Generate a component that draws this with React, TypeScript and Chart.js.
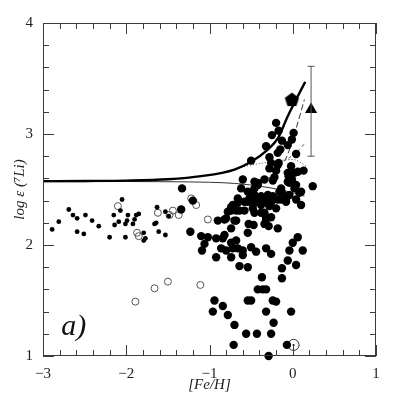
import React, { useEffect, useRef } from "react";
import { Chart, registerables } from "chart.js";

Chart.register(...registerables);

// ---- data ----
// halo-like metal-poor stars (small dots)
const smallDots: [number, number][] = [
  [-2.89, 2.14], [-2.81, 2.21], [-2.69, 2.32], [-2.64, 2.27], [-2.59, 2.24], [-2.59, 2.12],
  [-2.51, 2.10], [-2.49, 2.27], [-2.41, 2.22], [-2.33, 2.17], [-2.20, 2.07], [-2.15, 2.27],
  [-2.14, 2.18], [-2.09, 2.21], [-2.05, 2.41], [-2.07, 2.31], [-2.01, 2.19], [-2.01, 2.07],
  [-1.98, 2.27], [-1.99, 2.22], [-1.92, 2.19], [-1.90, 2.23], [-1.85, 2.28], [-1.79, 2.11],
  [-1.79, 2.04], [-1.77, 2.06], [-1.66, 2.19], [-1.64, 2.20], [-1.63, 2.34], [-1.61, 2.12],
  [-1.53, 2.09], [-1.53, 2.30], [-1.49, 2.26], [-1.88, 2.27],
];

// disk stars (large filled dots)
const bigDots: [number, number][] = [
  [-0.20, 3.10], [-0.17, 3.03], [-0.25, 2.99], [0.01, 3.01], [-0.01, 2.95], [-0.13, 2.94],
  [-0.32, 2.89], [-0.06, 2.90], [-0.15, 2.86], [-0.18, 2.83], [-0.28, 2.79], [0.04, 2.82],
  [-0.50, 2.76], [-0.26, 2.74], [-0.17, 2.74], [-0.28, 2.69], [-0.02, 2.71], [-0.20, 2.67],
  [-0.06, 2.65], [0.06, 2.66], [0.13, 2.67], [-0.18, 2.72], [0.02, 2.65],
  [-0.22, 2.61], [-0.05, 2.62], [-0.34, 2.59], [-0.60, 2.59], [-0.42, 2.56], [-0.46, 2.57],
  [-0.24, 2.58], [-0.06, 2.57], [0.24, 2.53], [-0.62, 2.51], [-0.42, 2.54], [-0.14, 2.51],
  [0.04, 2.54], [-0.01, 2.59], [0.08, 2.47], [0.10, 2.48], [-0.13, 2.47], [-0.04, 2.45],
  [-0.46, 2.45], [-0.38, 2.44], [-0.16, 2.48], [-0.54, 2.48], [-0.46, 2.51], [-0.04, 2.56],
  [0.02, 2.51], [-0.08, 2.43], [-0.30, 2.45],
  [-0.66, 2.42], [-0.54, 2.39], [-0.26, 2.41], [-0.72, 2.36], [-0.66, 2.38], [-0.74, 2.31],
  [-0.64, 2.31], [-0.58, 2.39], [-0.52, 2.42], [-0.46, 2.38], [-0.42, 2.42], [-0.38, 2.36],
  [-0.32, 2.41], [-0.28, 2.35], [-0.46, 2.29], [-0.38, 2.29], [-0.24, 2.44], [-0.14, 2.41],
  [-0.08, 2.42], [0.04, 2.41], [0.10, 2.36], [-0.20, 2.33], [-0.32, 2.25], [-0.18, 2.41],
  [-0.34, 2.39], [-0.50, 2.39], [-0.74, 2.34], [-0.68, 2.31], [-0.78, 2.30], [-0.58, 2.31],
  [-0.48, 2.33], [-0.26, 2.38], [-0.08, 2.39], [-0.34, 2.29], [-0.26, 2.25],
  [-0.90, 2.22], [-0.82, 2.23], [-0.68, 2.22], [-0.74, 2.15], [-0.53, 2.19], [-0.47, 2.18],
  [-0.54, 2.11], [-0.32, 2.23], [-0.29, 2.17], [-0.18, 2.15], [-1.10, 2.08], [-1.02, 2.07],
  [-1.06, 2.01], [-0.92, 2.06], [-0.84, 2.06], [-0.82, 2.09], [-0.74, 2.02], [-0.68, 2.04],
  [0.00, 2.02], [0.06, 2.07], [-0.70, 2.22], [-0.34, 2.19], [-0.80, 2.24],
  [-1.09, 1.95], [-0.86, 1.97], [-0.80, 1.95], [-0.72, 1.97], [-0.66, 1.97], [-0.60, 1.95],
  [-0.50, 1.98], [-0.44, 1.94], [-0.32, 1.97], [-0.26, 1.92], [-0.92, 1.89], [-0.74, 1.89],
  [-0.60, 1.91], [-0.04, 1.95], [0.12, 1.95], [-0.06, 1.86], [0.04, 1.82], [-0.13, 1.79],
  [-0.64, 1.81], [-0.54, 1.80],
  [-0.37, 1.71], [-0.13, 1.70], [-0.42, 1.60], [-0.36, 1.60], [-0.32, 1.60], [-0.94, 1.50],
  [-0.54, 1.50], [-0.50, 1.50], [-0.24, 1.50], [-0.20, 1.49], [-0.96, 1.40], [-0.84, 1.45],
  [-0.78, 1.37], [-0.32, 1.40], [-0.02, 1.40], [-0.23, 1.30], [-0.70, 1.28], [-0.56, 1.20],
  [-0.43, 1.20], [-0.26, 1.20], [-0.71, 1.10], [-0.07, 1.10], [-0.29, 1.00],
  [-1.33, 2.51], [-1.34, 2.32], [-1.23, 2.12], [-1.20, 2.40],
];

// open circles
const openCircles: [number, number][] = [
  [-2.10, 2.35], [-1.87, 2.11], [-1.85, 2.08], [-1.62, 2.29], [-1.48, 2.27], [-1.44, 2.31],
  [-1.37, 2.27], [-1.22, 2.42], [-1.16, 2.36], [-1.89, 1.49], [-1.66, 1.61], [-1.50, 1.67],
  [-1.11, 1.64], [-1.02, 2.23],
];

const sunPoint: [number, number][] = [[0.01, 1.10]];
const meteoritePoint: [number, number][] = [[-0.01, 3.31]];
const triPoint: [number, number][] = [[0.22, 3.22]];
const errorBar: [number, number][] = [[0.22, 2.80], [0.22, 3.61]];

// model curves
const thickCurve: [number, number][] = [
  [-3, 2.575], [-2.5, 2.577], [-2, 2.58], [-1.5, 2.592], [-1.1, 2.62], [-0.7, 2.68],
  [-0.5, 2.75], [-0.3, 2.86], [-0.18, 2.96], [-0.06, 3.16], [0.06, 3.34], [0.15, 3.47],
];
const thinCurve: [number, number][] = [
  [-3, 2.57], [-2, 2.572], [-1.5, 2.57], [-1.0, 2.565], [-0.7, 2.555], [-0.4, 2.53],
  [-0.1, 2.49], [0.14, 2.44],
];
const dottedCurve: [number, number][] = [
  [-0.62, 2.70], [-0.5, 2.72], [-0.3, 2.745], [-0.1, 2.765], [0.0, 2.77], [0.08, 2.75], [0.16, 2.71],
];
const dashedCurve: [number, number][] = [
  [-0.42, 2.54], [-0.2, 2.66], [-0.07, 2.80], [0.04, 3.05], [0.14, 3.31],
];
const shortDashCurve: [number, number][] = [
  [-0.05, 2.78], [0.08, 2.86], [0.16, 2.93],
];

const toXY = (a: [number, number][]) => a.map(([x, y]) => ({ x, y }));

function makePentagon(r: number) {
  const c = document.createElement("canvas");
  const s = Math.ceil(r * 2 + 2);
  c.width = s;
  c.height = s;
  const g = c.getContext("2d")!;
  g.fillStyle = "#000";
  g.beginPath();
  for (let i = 0; i < 5; i++) {
    const a = -Math.PI / 2 + (i * 2 * Math.PI) / 5;
    const px = s / 2 + r * Math.cos(a);
    const py = s / 2 + r * Math.sin(a) + 0.5;
    if (i === 0) g.moveTo(px, py);
    else g.lineTo(px, py);
  }
  g.closePath();
  g.fill();
  return c;
}

const isInt = (v: number) => Math.abs(v - Math.round(v)) < 1e-6;
const fmt = (v: number) => {
  const r = Math.round(v);
  return r < 0 ? "\u2212" + Math.abs(r) : String(r);
};

const framePlugin = {
  id: "frameTicks",
  afterDatasetsDraw(chart: any) {
    const { ctx, chartArea, scales } = chart;
    const { left, right, top, bottom } = chartArea;
    const xs = scales.x;
    const ys = scales.y;
    ctx.save();
    ctx.strokeStyle = "#3c3c3c";
    ctx.lineWidth = 1;
    ctx.strokeRect(left + 0.5, top + 0.5, right - left - 1, bottom - top - 1);
    ctx.beginPath();
    xs.ticks.forEach((t: any) => {
      const px = Math.round(xs.getPixelForValue(t.value)) + 0.5;
      const len = isInt(t.value) ? 11 : 6;
      ctx.moveTo(px, bottom);
      ctx.lineTo(px, bottom - len);
      ctx.moveTo(px, top);
      ctx.lineTo(px, top + len);
    });
    ys.ticks.forEach((t: any) => {
      const py = Math.round(ys.getPixelForValue(t.value)) + 0.5;
      const len = isInt(t.value) ? 11 : 6;
      ctx.moveTo(left, py);
      ctx.lineTo(left + len, py);
      ctx.moveTo(right, py);
      ctx.lineTo(right - len, py);
    });
    ctx.stroke();
    // panel label
    ctx.fillStyle = "#111";
    ctx.font = "italic 30px 'Liberation Serif'";
    ctx.textAlign = "left";
    ctx.textBaseline = "alphabetic";
    ctx.fillText("a)", xs.getPixelForValue(-2.78), ys.getPixelForValue(1.19));
    ctx.restore();
  },
};

export default function App() {
  const ref = useRef<HTMLCanvasElement | null>(null);

  useEffect(() => {
    document.body.style.margin = "0";
    const canvas = ref.current!;
    const pent = makePentagon(7.5);
    const pointDs = (data: [number, number][], extra: any) => ({
      type: "scatter",
      data: toXY(data),
      showLine: false,
      clip: false,
      ...extra,
    });
    const lineDs = (data: [number, number][], extra: any) => ({
      type: "line",
      data: toXY(data),
      showLine: true,
      pointRadius: 0,
      fill: false,
      cubicInterpolationMode: "monotone",
      ...extra,
    });
    const chart = new Chart(canvas, {
      type: "scatter",
      data: {
        datasets: [
          pointDs(smallDots, { pointRadius: 2.4, backgroundColor: "#000", borderWidth: 0 }),
          pointDs(bigDots, { pointRadius: 4.2, backgroundColor: "#000", borderWidth: 0 }),
          pointDs(openCircles, {
            pointRadius: 3.5,
            backgroundColor: "rgba(255,255,255,0)",
            borderColor: "#555",
            borderWidth: 1,
          }),
          pointDs(sunPoint, {
            pointRadius: 5.5,
            backgroundColor: "rgba(255,255,255,0)",
            borderColor: "#333",
            borderWidth: 1,
          }),
          pointDs(sunPoint, { pointRadius: 1, backgroundColor: "#000", borderWidth: 0 }),
          lineDs(thickCurve, { borderColor: "#000", borderWidth: 2.4 }),
          lineDs(thinCurve, { borderColor: "#333", borderWidth: 1 }),
          lineDs(dottedCurve, { borderColor: "#444", borderWidth: 1, borderDash: [1, 2] }),
          lineDs(dashedCurve, { borderColor: "#333", borderWidth: 1, borderDash: [6, 3] }),
          lineDs(shortDashCurve, { borderColor: "#555", borderWidth: 1, borderDash: [3, 3] }),
          {
            type: "line",
            data: toXY(errorBar),
            showLine: true,
            borderColor: "#555",
            borderWidth: 1,
            pointStyle: "line",
            pointRadius: 3.5,
            pointBorderWidth: 1,
            pointBorderColor: "#555",
            clip: false,
          },
          pointDs(meteoritePoint, { pointStyle: pent, pointRadius: 7.5 }),
          pointDs(triPoint, {
            pointStyle: "triangle",
            pointRadius: 7,
            backgroundColor: "#000",
            borderColor: "#000",
            borderWidth: 0,
          }),
        ] as any,
      },
      options: {
        animation: false,
        responsive: false,
        events: [],
        layout: { padding: { top: 23, right: 23, left: 0, bottom: 0 } },
        plugins: { legend: { display: false }, tooltip: { enabled: false } },
        scales: {
          x: {
            type: "linear",
            min: -3,
            max: 1,
            afterFit: (s: any) => {
              s.height = 43;
            },
            grid: { display: false, drawTicks: false },
            border: { display: false },
            ticks: {
              stepSize: 0.2,
              autoSkip: false,
              maxRotation: 0,
              padding: 9,
              color: "#222",
              font: { family: "'Liberation Serif'", size: 15 },
              callback: (v: any) => (isInt(Number(v)) ? fmt(Number(v)) : ""),
            },
            title: {
              display: true,
              text: "[Fe/H]",
              color: "#222",
              font: { family: "'Liberation Serif'", size: 15, style: "italic" },
              padding: { top: 0, bottom: 5 },
            },
          },
          y: {
            type: "linear",
            min: 1,
            max: 4,
            afterFit: (s: any) => {
              s.width = 43;
            },
            grid: { display: false, drawTicks: false },
            border: { display: false },
            ticks: {
              stepSize: 0.2,
              autoSkip: false,
              padding: 10,
              color: "#222",
              font: { family: "'Liberation Serif'", size: 15 },
              callback: (v: any) => (isInt(Number(v)) ? fmt(Number(v)) : ""),
            },
            title: {
              display: true,
              text: "log \u03B5 (\u2077Li)",
              color: "#222",
              font: { family: "'Liberation Serif'", size: 15, style: "italic" },
              padding: { top: 11, bottom: 0 },
            },
          },
        },
      } as any,
      plugins: [framePlugin],
    });
    return () => chart.destroy();
  }, []);

  return (
    <div style={{ width: 399, height: 399 }}>
      <canvas ref={ref} width={399} height={399} style={{ display: "block" }} />
    </div>
  );
}
